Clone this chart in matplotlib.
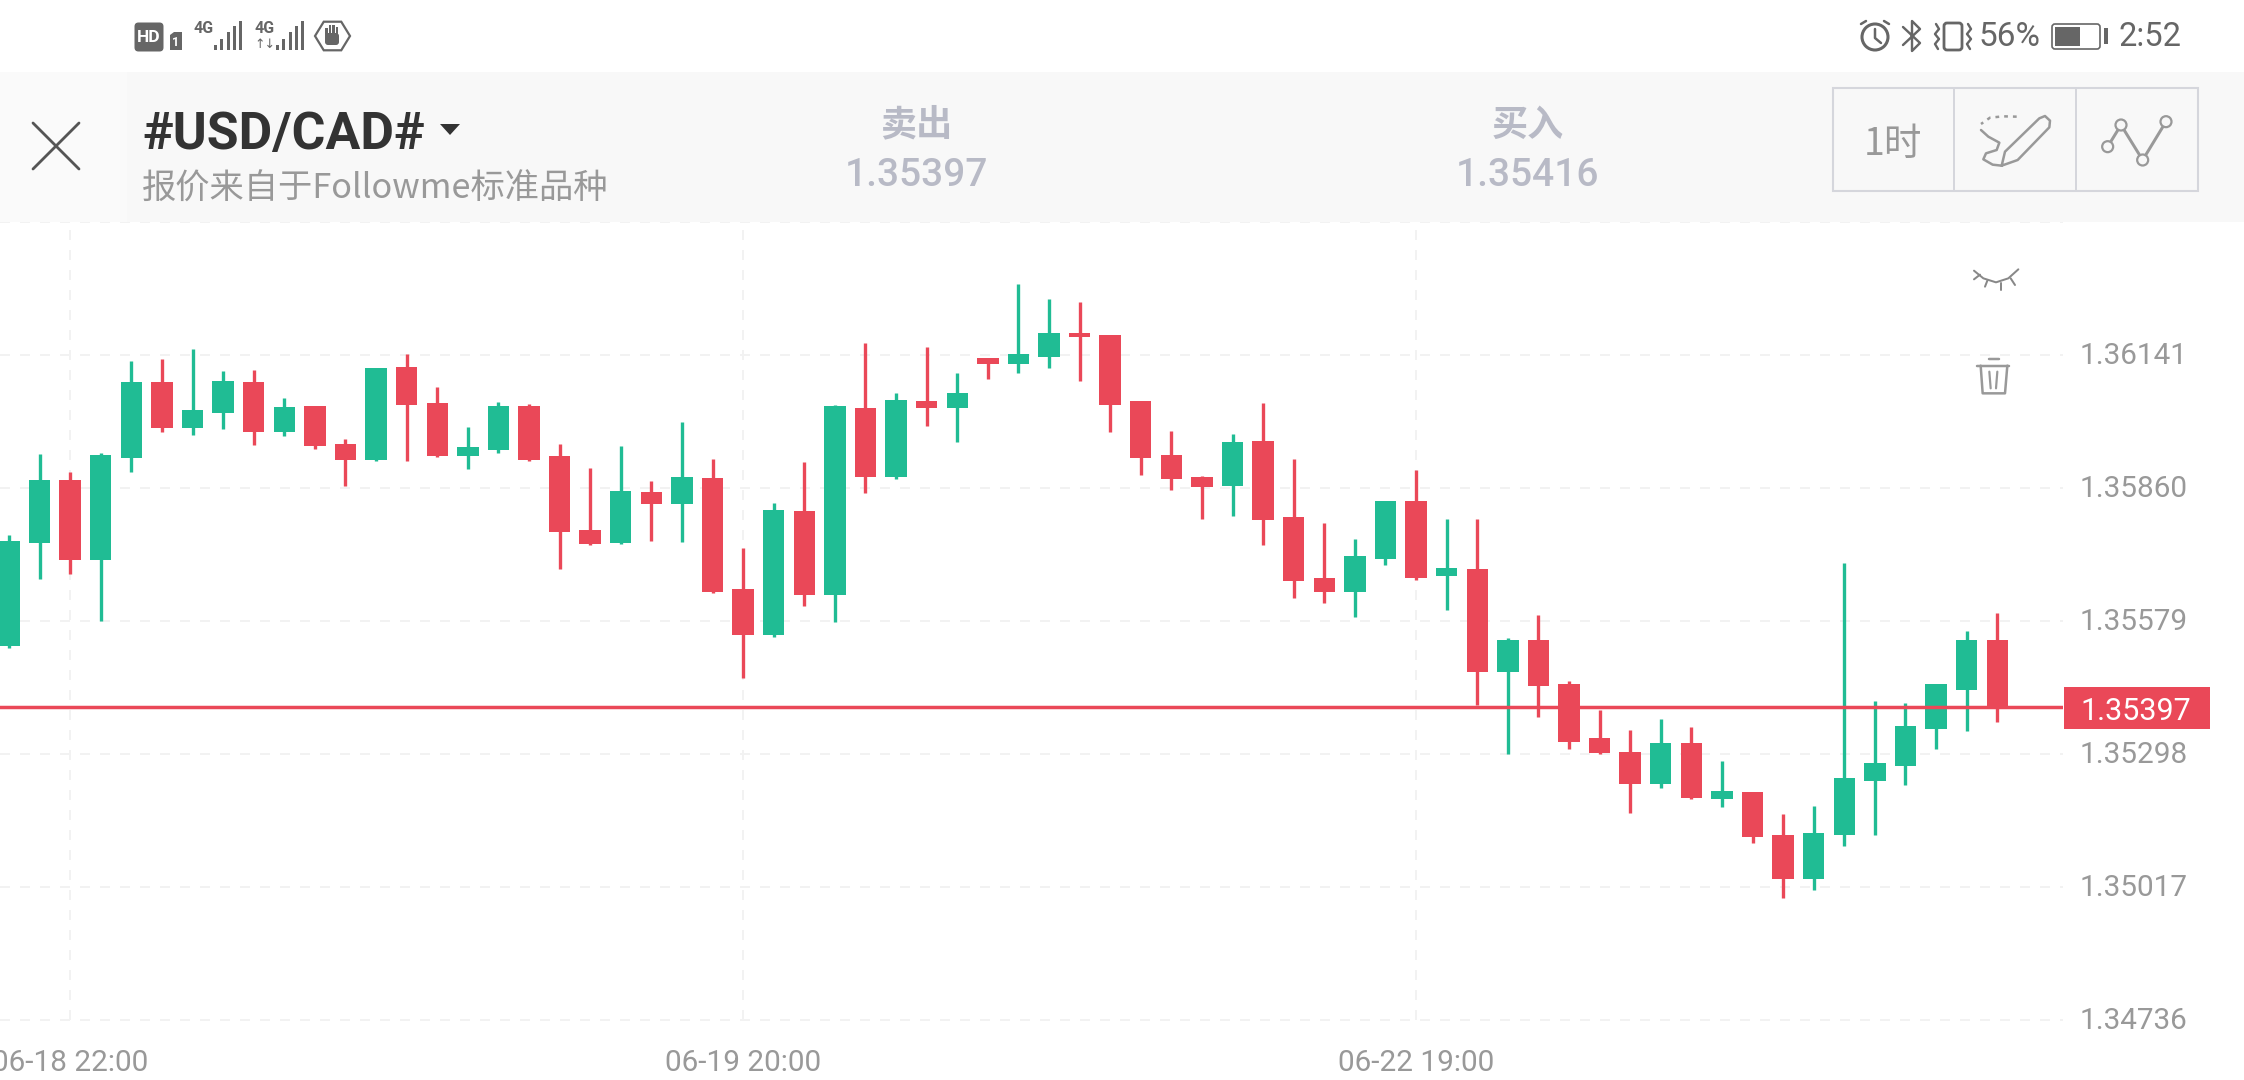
import numpy as np
import matplotlib
matplotlib.use("Agg")
import matplotlib.pyplot as plt
from matplotlib.patches import Rectangle, FancyBboxPatch, Circle, Polygon
from matplotlib.transforms import ScaledTranslation

# hourly candles, left to right
OPENS = [1.35526, 1.35744, 1.35876, 1.35707, 1.35923, 1.36083, 1.35986, 1.36018, 1.36085, 1.35978,
         1.36034, 1.35953, 1.35919, 1.36115, 1.36040, 1.35928, 1.35941, 1.36034, 1.35928, 1.35771,
         1.35743, 1.35852, 1.35826, 1.35882, 1.35647, 1.35550, 1.35812, 1.35634, 1.36029, 1.35884,
         1.36044, 1.36029, 1.36134, 1.36122, 1.36136, 1.36188, 1.36183, 1.36043, 1.35930, 1.35883,
         1.35864, 1.35959, 1.35799, 1.35669, 1.35640, 1.35711, 1.35832, 1.35675, 1.35688, 1.35471,
         1.35539, 1.35446, 1.35332, 1.35303, 1.35235, 1.35321, 1.35202, 1.35217, 1.35127, 1.35033,
         1.35127, 1.35240, 1.35273, 1.35351, 1.35433, 1.35538]
HIGHS = [1.35761, 1.35931, 1.35894, 1.35935, 1.36128, 1.36132, 1.36154, 1.36108, 1.36109, 1.36050,
         1.36034, 1.35963, 1.36114, 1.36144, 1.36073, 1.35988, 1.36042, 1.36037, 1.35952, 1.35902,
         1.35949, 1.35874, 1.35999, 1.35921, 1.35733, 1.35829, 1.35915, 1.36035, 1.36166, 1.36060,
         1.36157, 1.36102, 1.36134, 1.36292, 1.36259, 1.36252, 1.36183, 1.36043, 1.35980, 1.35885,
         1.35975, 1.36039, 1.35921, 1.35785, 1.35752, 1.35832, 1.35898, 1.35794, 1.35795, 1.35543,
         1.35591, 1.35453, 1.35390, 1.35349, 1.35372, 1.35354, 1.35284, 1.35218, 1.35171, 1.35189,
         1.35702, 1.35410, 1.35405, 1.35446, 1.35557, 1.35596]
LOWS = [1.35522, 1.35667, 1.35679, 1.35578, 1.35893, 1.35978, 1.35973, 1.35985, 1.35951, 1.35970,
        1.35942, 1.35865, 1.35918, 1.35916, 1.35926, 1.35901, 1.35935, 1.35916, 1.35688, 1.35740,
        1.35742, 1.35749, 1.35746, 1.35639, 1.35459, 1.35546, 1.35611, 1.35577, 1.35849, 1.35879,
        1.35992, 1.35957, 1.36091, 1.36103, 1.36114, 1.36086, 1.35978, 1.35887, 1.35855, 1.35795,
        1.35800, 1.35740, 1.35628, 1.35617, 1.35588, 1.35697, 1.35666, 1.35603, 1.35402, 1.35299,
        1.35377, 1.35308, 1.35299, 1.35174, 1.35227, 1.35203, 1.35187, 1.35110, 1.34994, 1.35011,
        1.35104, 1.35126, 1.35233, 1.35308, 1.35346, 1.35366]
CLOSES = [1.35749, 1.35877, 1.35708, 1.35929, 1.36084, 1.35986, 1.36025, 1.36087, 1.35979, 1.36031,
          1.35949, 1.35919, 1.36114, 1.36035, 1.35927, 1.35947, 1.36033, 1.35920, 1.35766, 1.35742,
          1.35854, 1.35826, 1.35883, 1.35640, 1.35549, 1.35813, 1.35634, 1.36034, 1.35884, 1.36046,
          1.36029, 1.36061, 1.36121, 1.36143, 1.36188, 1.36178, 1.36036, 1.35924, 1.35878, 1.35862,
          1.35958, 1.35792, 1.35664, 1.35641, 1.35716, 1.35832, 1.35670, 1.35692, 1.35472, 1.35539,
          1.35441, 1.35323, 1.35301, 1.35234, 1.35321, 1.35204, 1.35220, 1.35123, 1.35033, 1.35131,
          1.35247, 1.35278, 1.35357, 1.35446, 1.35538, 1.35397]

PRICE_TICKS = [1.34736, 1.35017, 1.35298, 1.35579, 1.35860, 1.36141, 1.36422]
PRICE_LABELS = ["1.34736", "1.35017", "1.35298", "1.35579", "1.35860", "1.36141", ""]
TIME_TICKS = [2, 24, 46]
TIME_LABELS = ["06-18 22:00", "06-19 20:00", "06-22 19:00"]
LAST_PRICE = 1.35397
SYMBOL = "#USD/CAD#"
SUBTITLE = "报价来自于Followme标准品种"
SELL_PRICE = "1.35397"
BUY_PRICE = "1.35416"

GREEN = "#20bc94"
RED = "#ea4858"
GRID = "#f2f2f2"
W, H = 2244, 1080
CJK = ["Noto Sans CJK SC", "DejaVu Sans"]

plt.rcParams["font.family"] = ["Roboto", "Noto Sans CJK SC", "DejaVu Sans"]

fig = plt.figure(figsize=(W / 100, H / 100), dpi=100, facecolor="white")

# ── Chart ────────────────────────────────────────────────────────────────
ax = fig.add_axes([0, 1 - 1020 / H, 2063 / W, (1020 - 222) / H])
opens, highs = np.array(OPENS), np.array(HIGHS)
lows, closes = np.array(LOWS), np.array(CLOSES)
xs = np.arange(len(opens))
up = closes >= opens
colors = np.where(up, GREEN, RED)

ax.vlines(xs, lows, highs, colors=colors, linewidth=2.4, zorder=3)
ax.bar(xs, np.abs(closes - opens), bottom=np.minimum(opens, closes), width=0.7,
       color=colors, linewidth=0, zorder=3)
ax.axhline(LAST_PRICE, color=RED, linewidth=2.5, zorder=4)

ax.set_xlim(-0.294, 67.15)
ax.set_ylim(PRICE_TICKS[0], PRICE_TICKS[-1])
ax.set_yticks(PRICE_TICKS, PRICE_LABELS)
ax.set_xticks(TIME_TICKS, TIME_LABELS)
ax.yaxis.tick_right()
ax.tick_params(axis="y", length=0, pad=12, labelsize=21.4, labelcolor="#999999")
ax.tick_params(axis="x", length=0, pad=21, labelsize=21.4, labelcolor="#999999")
# price labels sit about 2px above their grid lines
nudge = ScaledTranslation(0, 2 / 100, fig.dpi_scale_trans)
for tick in ax.yaxis.get_major_ticks():
    tick.label2.set_transform(tick.label2.get_transform() + nudge)
ax.grid(True, color=GRID, linewidth=1.44, linestyle=(0, (5, 5)), zorder=1)
ax.set_axisbelow(True)
for gl in ax.get_xgridlines() + ax.get_ygridlines():
    gl.set_clip_on(False)
for sp in ax.spines.values():
    sp.set_visible(False)

# ── App chrome, in screen pixels ─────────────────────────────────────────
ui = fig.add_axes([0, 0, 1, 1], zorder=5)
ui.set_xlim(0, W)
ui.set_ylim(H, 0)
ui.axis("off")


def stroke(pts, color="#999999", px=2.5, **kw):
    arr = np.array(pts)
    ui.plot(arr[:, 0], arr[:, 1], color=color, linewidth=px * 0.72,
            solid_capstyle="round", solid_joinstyle="round", **kw)


def zoom2(pts):
    # icon points were measured on a 3x crop of the top right corner
    return [(1750 + x / 3, y / 3) for x, y in pts]


ui.add_patch(Rectangle((0, 72), W, 150, color="#f8f8f8", linewidth=0))
ui.add_patch(Rectangle((0, 72), 127, 150, color="#fafafa", linewidth=0))

# close button
stroke([(33, 123), (79, 169)], color="#555555", px=2.8)
stroke([(79, 123), (33, 169)], color="#555555", px=2.8)

ui.text(142, 135, SYMBOL, fontsize=37.3, fontweight="bold", color="#333333", ha="left", va="center")
ui.add_patch(Polygon([(440, 124), (460, 124), (450, 135)], color="#333333", linewidth=0))
ui.text(142, 189, SUBTITLE, fontsize=24.7, color="#999999", ha="left", va="center", family=CJK)

for cx, head, price in [(916, "卖出", SELL_PRICE), (1528, "买入", BUY_PRICE)]:
    ui.text(cx, 125, head, fontsize=26, fontweight="bold", color="#b8bac6", ha="center", va="center", family=CJK)
    ui.text(cx, 176, price, fontsize=28, fontweight="medium", color="#b8bac6", ha="center", va="center")

# tool buttons
ui.add_patch(Rectangle((1833, 88), 365, 103, fill=False, edgecolor="#d5d6dc", linewidth=1.5))
for x in [1954, 2076]:
    stroke([(x, 88), (x, 191)], color="#d5d6dc", px=2)
ui.text(1893, 144, "1时", fontsize=27, color="#999999", ha="center", va="center", family=CJK)

stroke(zoom2([(800, 350), (760, 349), (720, 353), (693, 372)]), linestyle=(0, (1.5, 2)), px=2.5)
stroke(zoom2([(693, 390), (715, 410), (748, 428), (740, 450), (708, 460), (700, 478), (728, 494), (755, 497)]), px=2.5)
stroke(zoom2([(755, 497), (765, 455), (868, 355), (885, 348), (900, 362), (898, 382), (803, 480), (755, 497)]), px=2.5)
stroke(zoom2([(1073, 440), (1113, 375), (1178, 480), (1248, 365)]), px=3)
for cx, cy in zoom2([(1073, 440), (1113, 375), (1178, 480), (1248, 365)]):
    ui.add_patch(Circle((cx, cy), 5.5, facecolor="#f8f8f8", edgecolor="#999999", linewidth=1.6, zorder=4))

# eye and trash icons
stroke(zoom2([(672, 812), (700, 835), (738, 847), (775, 835), (805, 808)]), color="#888888", px=2)
for seg in [[(672, 838), (690, 824)], [(705, 860), (712, 842)], [(752, 870), (752, 848)], [(795, 855), (782, 835)]]:
    stroke(zoom2(seg), color="#888888", px=2)
stroke(zoom2([(682, 1097), (778, 1097)]), px=2.5)
stroke(zoom2([(716, 1078), (748, 1078)]), px=2.5)
stroke(zoom2([(692, 1097), (698, 1180), (765, 1180), (772, 1097)]), px=2.5)
stroke(zoom2([(718, 1115), (722, 1165)]), px=2.2)
stroke(zoom2([(742, 1115), (738, 1165)]), px=2.2)

# last price tag
ui.add_patch(Rectangle((2064, 687), 146, 42, color=RED, linewidth=0))
ui.text(2136, 709, f"{LAST_PRICE:.5f}", fontsize=22, color="white", ha="center", va="center_baseline")

# ── Status bar ───────────────────────────────────────────────────────────
DARK = "#666666"
ui.add_patch(FancyBboxPatch((136, 24), 26, 26, boxstyle="round,pad=1.5,rounding_size=4", color=DARK, linewidth=0))
ui.text(149, 37.5, "HD", fontsize=12.5, fontweight="bold", color="white", ha="center", va="center")
ui.add_patch(Polygon([(170, 35), (174, 32), (182, 32), (182, 50), (170, 50)], color=DARK, linewidth=0))
ui.text(176, 42, "1", fontsize=9, fontweight="bold", color="white", ha="center", va="center")
for x0, bars in [(214, [5, 11, 18, 24, 29]), (276, [5, 11, 18, 24, 29])]:
    for k, h in enumerate(bars):
        ui.add_patch(Rectangle((x0 + k * 6.3, 50 - h), 3.2, h, color=DARK, linewidth=0))
for x0 in [195, 256]:
    ui.text(x0 + 8.5, 28.5, "4G", fontsize=11.5, fontweight="bold", color=DARK, ha="center", va="center")
ui.text(265, 45, "↑↓", fontsize=9, color=DARK, ha="center", va="center", family=["DejaVu Sans"])
hexa = [(332.5 + 17.5 * np.cos(a), 36 + 16.5 * np.sin(a)) for a in np.deg2rad(np.arange(0, 360, 60))]
ui.add_patch(Polygon(hexa, closed=True, fill=False, edgecolor=DARK, linewidth=1.6))
ui.add_patch(FancyBboxPatch((326, 34), 12, 10, boxstyle="round,pad=1,rounding_size=3", color=DARK, linewidth=0))
for x, top in [(326.5, 28), (330, 25), (333.5, 25), (337, 27)]:
    ui.add_patch(Rectangle((x - 1, top), 2.2, 10, color=DARK, linewidth=0))

ui.add_patch(Circle((1875, 37), 13, fill=False, edgecolor=DARK, linewidth=2.2))
stroke([(1875, 29), (1875, 38), (1881, 43)], color=DARK, px=2.5)
stroke([(1861, 24), (1866, 21)], color=DARK, px=2.5)
stroke([(1889, 24), (1884, 21)], color=DARK, px=2.5)
stroke([(1903, 27), (1920, 43), (1912, 51), (1912, 21), (1920, 29), (1903, 45)], color=DARK, px=2.4)
ui.add_patch(FancyBboxPatch((1944, 23), 18, 27, boxstyle="round,pad=0,rounding_size=3", fill=False,
                            edgecolor=DARK, linewidth=2))
for x in [1936, 1968]:
    stroke([(x, 24), (x + 3, 29), (x - 1, 34), (x + 3, 39), (x - 1, 44), (x + 2, 49)], color=DARK, px=2.4)
ui.text(2010, 37, "56%", fontsize=24, color=DARK, ha="center", va="center")
ui.add_patch(FancyBboxPatch((2052, 24), 48, 25, boxstyle="round,pad=0,rounding_size=3", fill=False,
                            edgecolor=DARK, linewidth=1.2))
ui.add_patch(Rectangle((2055, 27), 25, 19, color=DARK, linewidth=0))
ui.add_patch(Rectangle((2104, 28), 4, 16, color=DARK, linewidth=0))
ui.text(2150, 37, "2:52", fontsize=23.5, color=DARK, ha="center", va="center")

fig.savefig("out.png", dpi=100, facecolor="white")
